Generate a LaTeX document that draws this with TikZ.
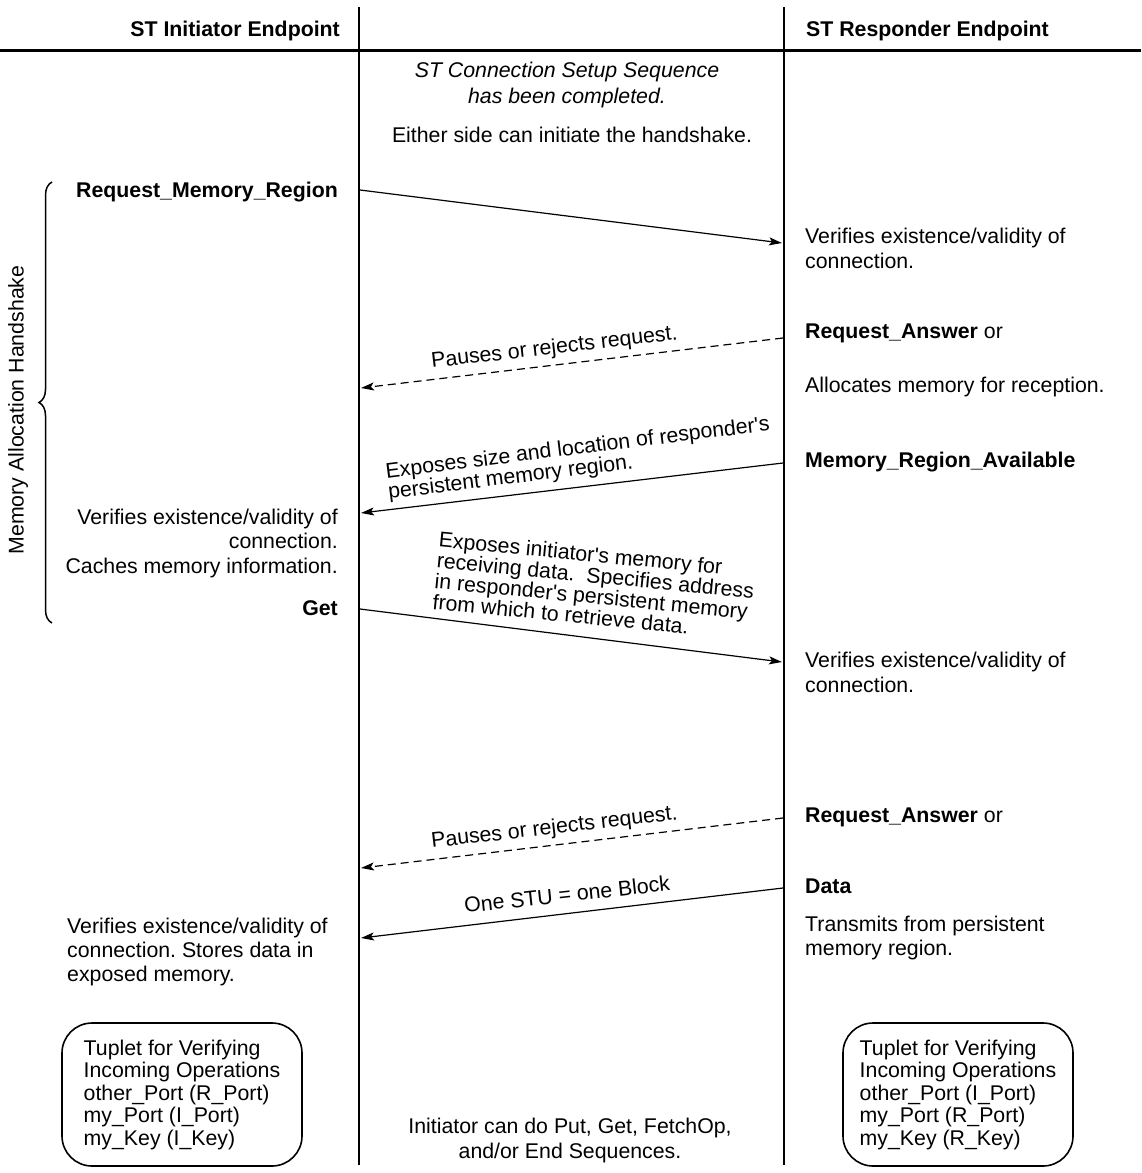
\documentclass[tikz,border=0pt]{standalone}
\usepackage{fontspec}
\setmainfont{Liberation Sans}
\usetikzlibrary{arrows.meta,decorations.pathreplacing}

\begin{document}
\frenchspacing
\begin{tikzpicture}[x=1pt,y=-1pt,
  every node/.style={inner sep=0pt, font=\fontsize{21.3}{24.5}\selectfont},
  lifeline/.style={line width=2pt},
  msg/.style={line width=1.2pt, -{Stealth[length=13pt,width=8pt,inset=3pt]}},
  reply/.style={msg, dash pattern=on 8pt off 5pt},
  rtext/.style={anchor=base west, align=left},
  ltext/.style={anchor=base east, align=right},
  arrowlbl/.style={anchor=base west, align=left,
    font=\fontsize{21.3}{21}\selectfont},
  tuple/.style={draw, line width=1.6pt, rounded corners=30pt, align=left,
    minimum height=143pt, font=\fontsize{21.3}{22.5}\selectfont},
]
\useasboundingbox (0,0) rectangle (1141,1173);

% header and lifelines
\node[anchor=base east] (hdrI) at (340,36) {\textbf{ST Initiator Endpoint}};
\node[anchor=base west] (hdrR) at (806,36) {\textbf{ST Responder Endpoint}};
\coordinate (hl) at (0,50);
\coordinate (hr) at (1141,50);
\draw[line width=3pt] (hl) -- (hr);
\coordinate (Itop) at (359,7);
\coordinate (Ibot) at (359,1165);
\coordinate (Rtop) at (784,7);
\coordinate (Rbot) at (784,1165);
\draw[lifeline] (Itop) -- (Ibot);
\draw[lifeline] (Rtop) -- (Rbot);

% opening remarks (multi-line nodes are anchored at their last baseline)
\node[anchor=base, align=center, font=\fontsize{21.3}{26}\selectfont\itshape]
  (setup) at (567,103) {ST Connection Setup Sequence\\has been completed.};
\node[anchor=base] (either) at (572,142) {Either side can initiate the handshake.};

% initiator side
\node[ltext] (reqmem) at (338,197) {\textbf{Request\_Memory\_Region}};
\node[ltext] (iverify) at (338,573)
  {Verifies existence/validity of\\connection.\\Caches memory information.};
\node[ltext] (get) at (338,615) {\textbf{Get}};
\node[rtext, font=\fontsize{21.3}{24}\selectfont] (istore) at (67,981)
  {Verifies existence/validity of\\connection. Stores data in\\exposed memory.};

% responder side
\node[rtext] (rverify1) at (805,268) {Verifies existence/validity of\\connection.};
\node[rtext] (ranswer1) at (805,338) {\textbf{Request\_Answer} or};
\node[rtext] (ralloc) at (805,392) {Allocates memory for reception.};
\node[rtext] (ravail) at (805,467) {\textbf{Memory\_Region\_Available}};
\node[rtext] (rverify2) at (805,692) {Verifies existence/validity of\\connection.};
\node[rtext] (ranswer2) at (805,822) {\textbf{Request\_Answer} or};
\node[rtext] (rdata) at (805,893) {\textbf{Data}};
\node[rtext, font=\fontsize{21.3}{23.5}\selectfont] (rtrans) at (805,955)
  {Transmits from persistent\\memory region.};

% message endpoints on the lifelines
\coordinate (m1s) at (360,190);  \coordinate (m1e) at (782,243);
\coordinate (m2s) at (783,338);  \coordinate (m2e) at (361,388);
\coordinate (m3s) at (783,463);  \coordinate (m3e) at (361,513);
\coordinate (m4s) at (360,609);  \coordinate (m4e) at (782,662);
\coordinate (m5s) at (783,818);  \coordinate (m5e) at (361,868);
\coordinate (m6s) at (783,888);  \coordinate (m6e) at (361,938);

\draw[msg] (m1s) -- (m1e);
\draw[reply] (m2s) -- (m2e);
\draw[msg] (m3s) -- (m3e);
\draw[msg] (m4s) -- (m4e);
\draw[reply] (m5s) -- (m5e);
\draw[msg] (m6s) -- (m6e);

% message labels, tilted along their arrows
\node[arrowlbl, rotate=6.6] (l2) at (432,368) {Pauses or rejects request.};
\node[arrowlbl, rotate=7.1] (l3) at (389,499)
  {Exposes size and location of responder\textquotesingle s\\persistent memory region.};
\node[arrowlbl, rotate=-5.6, font=\fontsize{21.3}{19.5}\selectfont] (l4) at (432,609)
  {Exposes initiator\textquotesingle s memory for\\receiving data.\ \ Specifies address\\in responder\textquotesingle s persistent memory\\from which to retrieve data.};
\node[arrowlbl, rotate=6.6] (l5) at (432,848) {Pauses or rejects request.};
\node[arrowlbl, rotate=6.2] (l6) at (465,913) {One STU = one Block};

% handshake brace
\coordinate (bb) at (52,623);
\coordinate (bt) at (52,182);
\draw[line width=1.5pt, decorate, decoration={brace, amplitude=13pt}] (bb) -- (bt);
\node[rotate=90] (hs) at (18,410) {Memory Allocation Handshake};

% verification tuplets
\node[tuple, minimum width=240pt] (tupI) at (182,1094.5)
  {Tuplet for Verifying\\Incoming Operations\\other\_Port (R\_Port)\\my\_Port (I\_Port)\\my\_Key (I\_Key)};
\node[tuple, minimum width=230pt] (tupR) at (958,1094.5)
  {Tuplet for Verifying\\Incoming Operations\\other\_Port (I\_Port)\\my\_Port (R\_Port)\\my\_Key (R\_Key)};

% closing remark
\node[anchor=base, align=center, font=\fontsize{21.3}{25}\selectfont] (closing) at (570,1158)
  {Initiator can do Put, Get, FetchOp,\\and/or End Sequences.};
\end{tikzpicture}
\end{document}
